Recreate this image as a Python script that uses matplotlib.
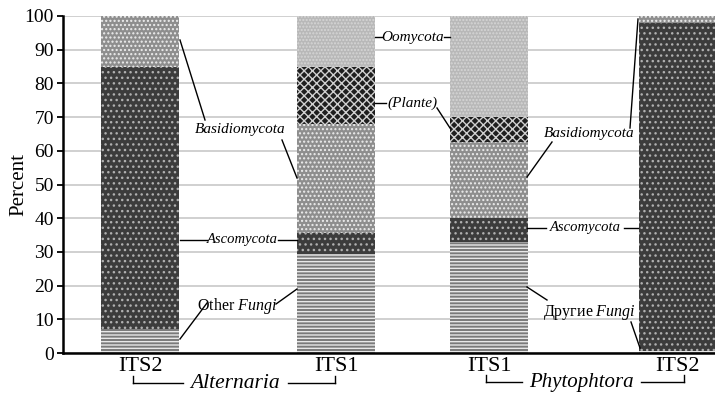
import matplotlib.pyplot as plt
import numpy as np

plt.rcParams['font.family'] = ['Liberation Serif', 'DejaVu Serif']
plt.rcParams['mathtext.fontset'] = 'custom'
plt.rcParams['mathtext.rm'] = 'Liberation Serif'
plt.rcParams['mathtext.it'] = 'Liberation Serif:italic'
plt.rcParams['hatch.linewidth'] = 1.0

# data
bar_labels = ['ITS2', 'ITS1', 'ITS1', 'ITS2']
genus = ['Alternaria', 'Phytophtora']
other_fungi = [7, 29.5, 33, 0.5]
ascomycota = [78, 6, 7, 97.5]
basidiomycota = [15, 32.5, 22.5, 2]
plante = [0, 17, 7.5, 0]
oomycota = [0, 15, 30, 0]

pos = np.array([0, 1.96, 3.49, 5.375])
width = 0.775

# layers: (values, facecolor, hatch colour, hatch)
layers = [
    (other_fungi, '#7a7a7a', '#e8e8e8', '-----'),
    (ascomycota, '#3c3c3c', '#b0b0b0', '...'),
    (basidiomycota, '#8e8e8e', '#ededed', '....'),
    (plante, '#1e1e1e', '#d0d0d0', 'xxxx'),
    (oomycota, '#b8b8b8', '#d6d6d6', '.....'),
]

fig = plt.figure(figsize=(7.15, 3.94), dpi=100)
ax = fig.add_axes([63 / 715, 41 / 394, 652 / 715, 337 / 394])

bottom = np.zeros(len(pos))
for vals, fc, hc, hatch in layers:
    vals = np.array(vals, dtype=float)
    ax.bar(pos, vals, width, bottom=bottom, color=fc, edgecolor=hc,
           hatch=hatch, linewidth=0, zorder=2)
    bottom += vals

ax.set_xlim(-0.77, 5.75)
ax.set_ylim(0, 100)
ax.set_yticks(np.arange(0, 101, 10))
ax.yaxis.grid(True, color='#c4c4c4', linewidth=1.1, zorder=0)
ax.set_axisbelow(True)
ax.set_xticks(pos, bar_labels, fontsize=16)
ax.tick_params(axis='x', length=0, pad=3)
ax.tick_params(axis='y', labelsize=14, length=4.5, width=1.3, pad=2)
for s in ['top', 'right']:
    ax.spines[s].set_visible(False)
for s in ['left', 'bottom']:
    ax.spines[s].set_linewidth(1.8)
ax.set_ylabel('Percent', fontsize=15, labelpad=-2.5)


# pixel -> data helpers for the annotation layout
def X(px):
    return (px - 140) / 100


def Y(py):
    return (353 - py) / 3.37


def seg(x1, y1, x2, y2):
    ax.plot([X(x1), X(x2)], [Y(y1), Y(y2)], color='black', lw=1.0,
            zorder=3, clip_on=False)


def lab(x, y, s, size=11, style='italic'):
    ax.text(X(x), Y(y), s, fontsize=size, style=style, ha='center',
            va='center', zorder=4, clip_on=False)


# left pair
lab(240, 129, 'Basidiomycota')
seg(180, 40, 205, 120)
seg(282, 140, 297, 178)
lab(242, 240, 'Ascomycota', size=10.5)
seg(180, 240, 207, 240)
seg(278, 240, 297, 240)
lab(237, 306, r'Other$\ \it{Fungi}$', style='normal', size=11.5)
seg(180, 339, 207, 303)
seg(276, 304, 297, 289)

# middle
lab(413, 37, 'Oomycota')
seg(375, 37, 382, 37)
seg(444, 37, 450, 37)
lab(413, 103, '(Plante)')
seg(375, 103, 386, 103)
seg(437, 108, 450, 128)

# right pair
lab(589, 133, 'Basidiomycota')
seg(552, 142, 527, 177)
seg(630, 128, 638, 19)
lab(585, 228, 'Ascomycota', size=10.5)
seg(527, 228, 546, 228)
seg(624, 228, 638, 228)
lab(589, 313, r'Другие$\ \it{Fungi}$', style='normal', size=11.5)
seg(527, 287, 547, 300)
seg(631, 322, 640, 348)

# genus brackets below the axis
lab(235, 383, genus[0], size=15.5)
seg(133, 376, 133, 383)
seg(133, 383, 183, 383)
seg(288, 383, 335, 383)
seg(335, 383, 335, 376)
lab(581, 382, genus[1], size=15)
seg(486, 375, 486, 382)
seg(486, 382, 522, 382)
seg(641, 382, 684, 382)
seg(684, 382, 684, 375)

fig.savefig('out.png', dpi=100)
